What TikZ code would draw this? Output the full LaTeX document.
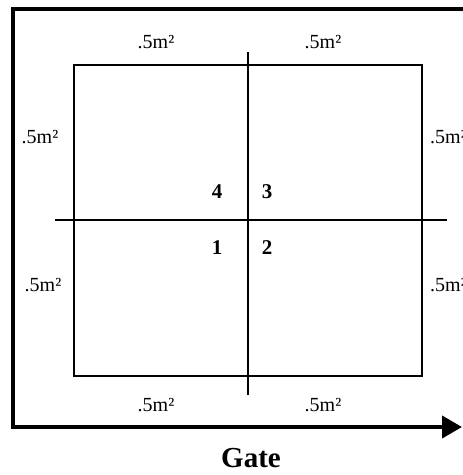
\documentclass[tikz,border=0pt]{standalone}
\usepackage{fontspec}
\setmainfont{Liberation Serif}
\usetikzlibrary{arrows.meta,positioning}

\begin{document}
\begin{tikzpicture}[
  x=1pt, y=-1pt,
  frame/.style={line width=4pt},
  plot/.style={line width=1.5pt},
  split/.style={line width=2pt},
  area/.style={inner sep=0pt, font=\fontsize{20}{20}\selectfont},
  quad/.style={inner sep=0pt, font=\fontsize{21}{21}\selectfont\bfseries},
]
\useasboundingbox (0,0) rectangle (463,475);

% field edge, ending in the gate arrow
\coordinate (fieldtop) at (463,8.5);
\coordinate (fieldtl) at (12.5,8.5);
\coordinate (fieldbl) at (12.5,427);
\coordinate (gateend) at (462,427);
\draw[frame, -{Triangle[length=20pt,width=22pt]}] (fieldtop) -- (fieldtl) -- (fieldbl) -- (gateend);
\node[inner sep=0pt, font=\fontsize{29}{29}\selectfont\bfseries] (gate) at (251,458) {Gate};

% plot and its quarters
\draw[plot] (74,65) rectangle (422,376);
\coordinate (vtop) at (248,52);
\coordinate (vbot) at (248,395);
\coordinate (hleft) at (55,220);
\coordinate (hright) at (447,220);
\draw[split] (vtop) -- (vbot);
\draw[plot] (hleft) -- (hright);

\node[quad] (q4) at (217,192) {4};
\node[quad] (q3) at (267,192) {3};
\node[quad] (q1) at (217,248) {1};
\node[quad] (q2) at (267,248) {2};

% sub-plot areas
\node[area] (topl) at (156,42) {.5m²};
\node[area] (topr) at (323,42) {.5m²};
\node[area] (botl) at (156,405) {.5m²};
\node[area] (botr) at (323,405) {.5m²};
\node[area] (lefu) at (40,137) {.5m²};
\node[area] (lefd) at (43,285) {.5m²};
\node[area, anchor=west] (rigu) at (430,137) {.5m²};
\node[area, anchor=west] (rigd) at (430,285) {.5m²};
\end{tikzpicture}
\end{document}
